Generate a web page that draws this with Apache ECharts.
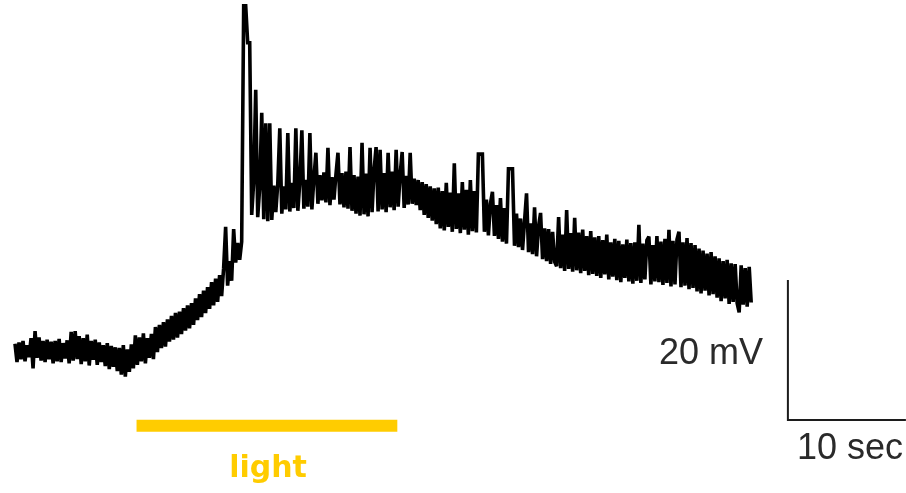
<!DOCTYPE html>
<html>
<head>
<meta charset="utf-8">
<script src="https://cdn.jsdelivr.net/npm/echarts@6/dist/echarts.min.js"></script>
<style>
  html, body { margin: 0; padding: 0; background: #fff; }
  #chart { width: 906px; height: 493px; }
</style>
</head>
<body>
<div id="chart"></div>
<script>
// Membrane potential recording (mV), sampled every dt seconds
const dt = 0.17;
const vm = [
  -58.4, -61.0, -58.2, -60.6, -58.0, -60.9, -58.6, -60.3, -57.6, -61.9,
  -56.6, -60.4, -57.5, -60.8, -58.0, -61.0, -57.8, -60.6, -58.1, -61.2,
  -58.0, -60.9, -57.7, -61.0, -58.3, -60.5, -57.9, -61.2, -56.7, -60.8,
  -56.6, -60.6, -57.3, -61.3, -57.6, -60.9, -57.1, -61.5, -58.0, -60.7,
  -57.8, -61.4, -58.2, -61.0, -58.6, -61.6, -58.3, -62.0, -58.7, -61.7,
  -58.9, -62.3, -59.0, -62.8, -58.6, -63.1, -59.2, -62.4, -58.5, -61.9,
  -57.2, -61.4, -57.5, -60.9, -56.9, -61.2, -57.6, -60.4, -57.0, -60.6,
  -56.0, -59.6, -55.7, -59.0, -55.3, -58.8, -54.9, -58.1, -54.4, -57.8,
  -54.0, -57.5, -53.8, -57.0, -53.3, -56.5, -52.9, -56.2, -52.6, -55.7,
  -51.9, -55.0, -51.3, -54.6, -50.8, -54.0, -50.3, -53.4, -49.6, -52.9,
  -49.1, -52.4, -48.6, -51.6, -47.6, -41.7, -50.1, -46.6, -49.4, -42.0,
  -46.8, -44.0, -46.4, -43.8, -10.1, -10.1, -15.4, -15.4, -40.0, -35.2,
  -22.1, -40.3, -36.0, -25.4, -40.6, -26.9, -40.9, -26.9, -40.7, -35.8,
  -39.6, -35.5, -27.6, -39.8, -35.9, -39.2, -28.3, -39.5, -35.4, -39.0,
  -27.6, -39.4, -35.2, -27.9, -39.1, -35.0, -38.8, -28.3, -39.2, -34.8,
  -31.1, -38.4, -34.3, -37.9, -33.9, -38.2, -30.4, -38.6, -34.6, -37.8,
  -34.2, -31.1, -38.5, -34.0, -38.9, -33.8, -39.1, -30.3, -39.4, -34.3,
  -39.8, -34.5, -40.1, -29.7, -39.9, -34.1, -40.2, -30.4, -39.6, -33.6,
  -30.3, -39.5, -30.7, -39.2, -34.0, -39.6, -31.1, -38.9, -33.8, -39.3,
  -30.7, -38.8, -34.2, -31.0, -39.0, -34.4, -38.5, -31.1, -38.4, -34.8,
  -38.6, -35.0, -39.3, -35.3, -40.0, -35.6, -40.4, -35.9, -40.8, -36.2,
  -41.3, -36.1, -41.9, -36.6, -42.2, -35.4, -41.7, -36.8, -42.4, -32.6,
  -42.0, -36.9, -42.6, -35.3, -42.1, -36.4, -42.8, -35.0, -42.3, -36.6,
  -42.5, -31.3, -31.3, -31.3, -42.4, -37.8, -42.9, -38.4, -36.7, -43.0,
  -38.6, -43.4, -37.6, -43.8, -39.0, -44.1, -33.4, -33.4, -33.4, -44.4,
  -39.8, -44.6, -40.5, -45.0, -40.9, -36.9, -45.3, -41.2, -45.6, -38.9,
  -45.9, -41.6, -39.7, -46.3, -41.9, -46.6, -42.0, -47.0, -42.4, -46.7,
  -47.3, -40.3, -47.6, -42.8, -48.0, -39.3, -47.7, -42.6, -48.1, -40.4,
  -47.9, -42.5, -48.3, -42.1, -48.0, -43.0, -48.6, -42.3, -48.4, -43.2,
  -48.7, -43.0, -49.0, -43.6, -48.5, -42.8, -49.2, -43.9, -48.8, -43.4,
  -49.3, -43.7, -49.6, -44.2, -49.0, -43.5, -49.5, -44.0, -49.8, -43.9,
  -49.4, -41.4, -49.7, -44.1, -49.2, -43.6, -43.1, -49.9, -44.3, -49.5,
  -43.0, -49.6, -43.8, -50.0, -43.4, -49.7, -42.1, -50.2, -43.7, -49.9,
  -43.5, -42.4, -50.3, -43.9, -50.1, -43.3, -50.6, -44.0, -50.4, -44.3,
  -50.9, -44.8, -51.2, -45.1, -50.8, -45.5, -51.5, -45.3, -51.3, -45.9,
  -51.8, -46.2, -52.3, -46.6, -51.9, -46.4, -52.7, -46.9, -52.4, -47.0,
  -52.6, -53.9, -47.2, -52.8, -47.6, -53.1, -47.4, -52.5
];

// Light stimulus window (s)
const lightOn = 10.3;
const lightOff = 32.4;

// Calibration bar: 10 s by 20 mV
const scaleSec = 10;
const scaleMv = 20;
const scaleLabels = ['20 mV', '10 sec'];
const stimulusLabel = 'light';

// ---- layout (canvas 906 x 493) ----
const W = 906, H = 493;
const pxPerSec = 11.8;
const pxPerMv = 7;
const traceLeftPx = 15;          // where t = 0 sits
const refMvPx = 355;             // pixel row of -60 mV
const xMin = -traceLeftPx / pxPerSec;
const xMax = xMin + W / pxPerSec;
const yMax = -60 + refMvPx / pxPerMv;
const yMin = yMax - H / pxPerMv;

const scaleOrigin = [65.5, -69.3];  // corner of the calibration bar (s, mV)
const lightLevel = -70.1;           // height of the stimulus bar (mV)

const traceData = vm.map((v, i) => [i * dt, v]);
const scaleData = [
  [scaleOrigin[0], scaleOrigin[1] + scaleMv],
  [scaleOrigin[0], scaleOrigin[1]],
  [scaleOrigin[0] + scaleSec, scaleOrigin[1]]
];
const lightData = [[lightOn, lightLevel], [lightOff, lightLevel]];

const chart = echarts.init(document.getElementById('chart'), null, { renderer: 'canvas' });
chart.setOption({
  animation: false,
  backgroundColor: '#ffffff',
  grid: { left: 0, right: 0, top: 0, bottom: 0, containLabel: false },
  xAxis: { type: 'value', min: xMin, max: xMax, show: false },
  yAxis: { type: 'value', min: yMin, max: yMax, show: false },
  series: [
    {
      type: 'line',
      data: traceData,
      showSymbol: false,
      symbol: 'none',
      sampling: null,
      lineStyle: { color: '#000000', width: 3.6, join: 'miter', miterLimit: 2 },
      silent: true,
      z: 3
    },
    {
      type: 'line',
      data: scaleData,
      showSymbol: false,
      symbol: 'none',
      lineStyle: { color: '#1c1c1c', width: 2, cap: 'butt', join: 'miter' },
      silent: true,
      z: 2
    },
    {
      type: 'line',
      data: lightData,
      showSymbol: false,
      symbol: 'none',
      lineStyle: { color: '#FFCC00', width: 12, cap: 'butt' },
      silent: true,
      z: 2
    }
  ],
  graphic: [
    {
      type: 'text', x: 763, y: 354,
      style: {
        text: scaleLabels[0], fill: '#2a2a2a',
        font: '36px "Liberation Sans", Arial, sans-serif',
        align: 'right', verticalAlign: 'middle'
      }
    },
    {
      type: 'text', x: 797, y: 449,
      style: {
        text: scaleLabels[1], fill: '#2a2a2a',
        font: '36px "Liberation Sans", Arial, sans-serif',
        align: 'left', verticalAlign: 'middle'
      }
    },
    {
      type: 'text', x: 268, y: 469,
      style: {
        text: stimulusLabel, fill: '#FFCC00',
        font: 'bold 30px "DejaVu Sans", sans-serif',
        align: 'center', verticalAlign: 'middle'
      }
    }
  ]
});
</script>
</body>
</html>
